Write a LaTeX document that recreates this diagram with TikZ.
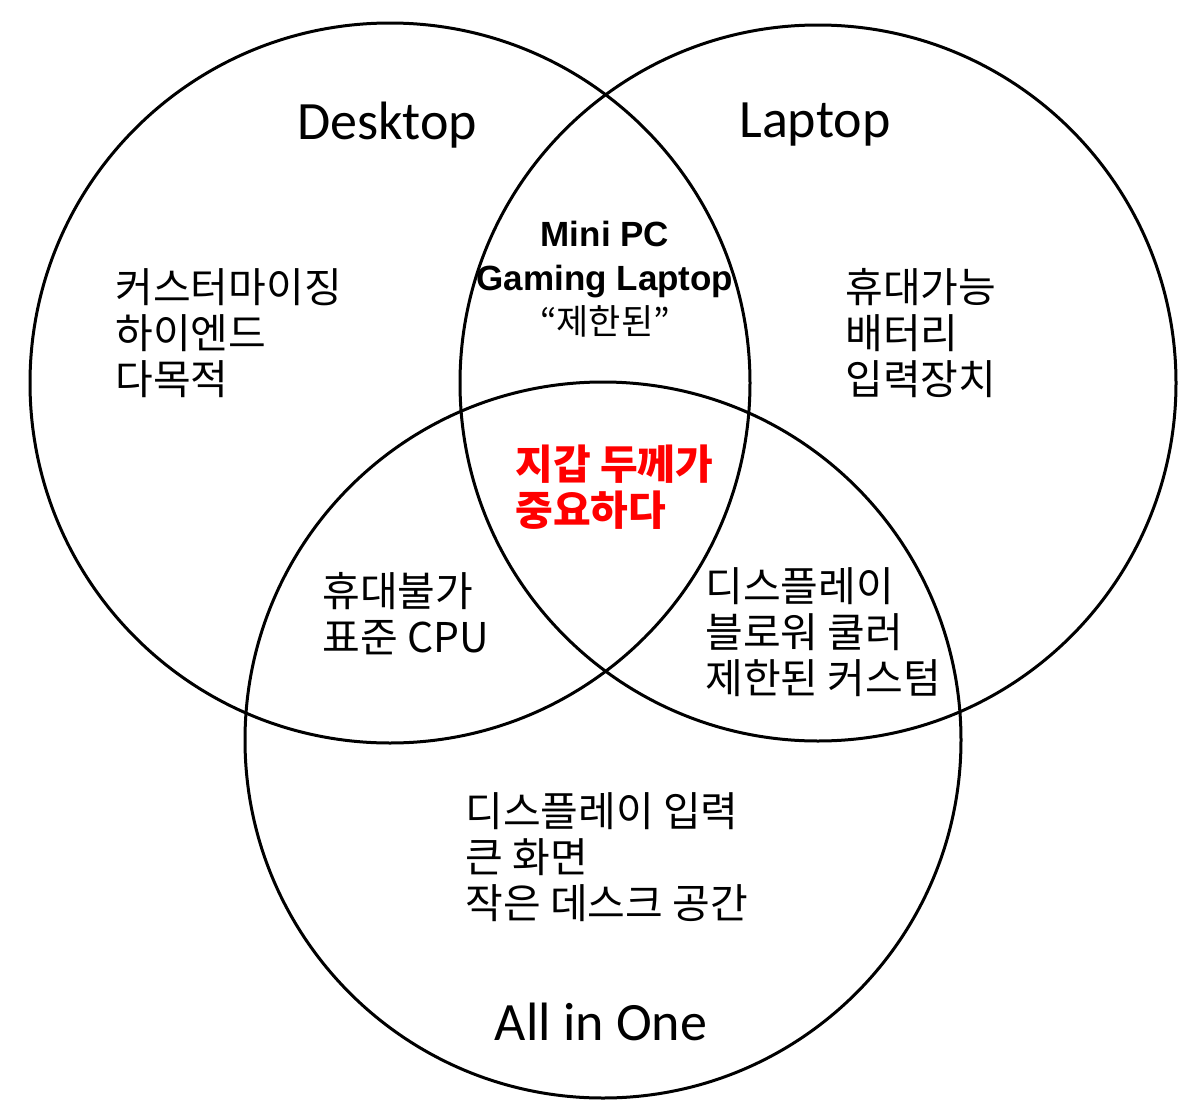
\documentclass[tikz,border=0pt]{standalone}
\usepackage{fontspec}
\setmainfont{Carlito}
\newfontfamily\kr{Noto Sans CJK KR}
\newfontfamily\arialb{Liberation Sans}
\tikzset{
  setc/.style   = {draw, circle, line width=1.5pt},
  title/.style  = {font=\fontsize{27}{30}\selectfont},
  items/.style  = {anchor=west, align=left, inner sep=0pt,
                   font=\kr\fontsize{20.5}{23}\selectfont},
  hot/.style    = {items, text=red, font=\kr\bfseries\fontsize{20.5}{23}\selectfont}
}
\begin{document}
\begin{tikzpicture}[x=0.5pt,y=-0.5pt]
\useasboundingbox (0,0) rectangle (1200,1103);

% the three sets
\node[setc, minimum size=360pt] (desk) at (390,383) {};
\node[setc, minimum size=358pt] (lap) at (818,383) {};
\node[setc, minimum size=358pt] (aio) at (603,740) {};

% set names
\node[title] (tdesk) at (387,125) {Desktop};
\node[title] (tlap) at (815,125) {Laptop};
\node[title] (taio) at (601,1022) {All in One};

% contents of each region
\node[items] (d1) at (115,333) {커스터마이징\\하이엔드\\다목적};
\node[items] (l1) at (845,333) {휴대가능\\배터리\\입력장치};
\node[items] (a1) at (465,857) {디스플레이 입력\\큰 화면\\작은 데스크 공간};
\node[items] (da) at (322,614) {휴대불가\\표준 CPU};
\node[items] (la) at (705,632) {디스플레이\\블로워 쿨러\\제한된 커스텀};
\node[hot] (mid) at (515,487) {지갑 두께가\\중요하다};
\node[align=center, inner sep=0pt, font=\arialb\bfseries\fontsize{17.5}{22}\selectfont] (dl) at (605,279)
  {Mini PC\\Gaming Laptop\\{\kr\mdseries “제한된”}};
\end{tikzpicture}
\end{document}
